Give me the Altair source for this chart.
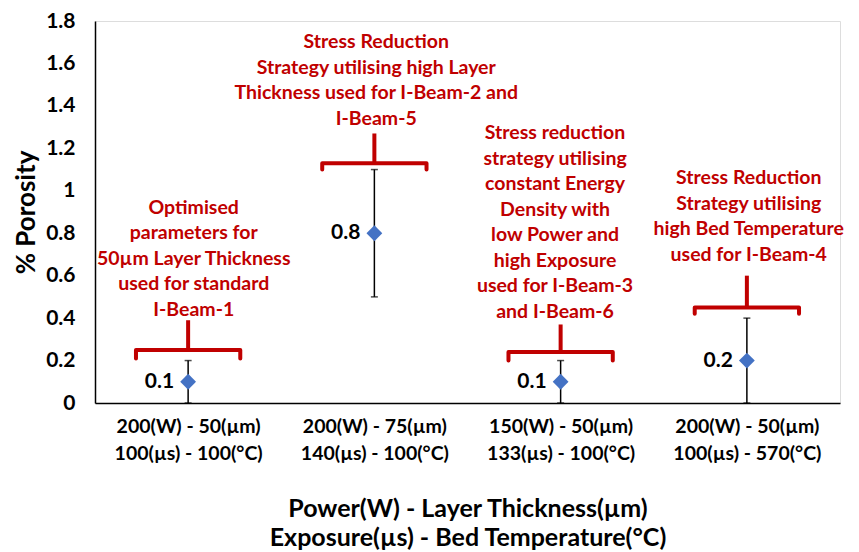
import json
import altair as alt
import pandas as pd

# ---- data ----
categories = [1, 2, 3, 4]
x_line1 = ["200(W) - 50(µm)", "200(W) - 75(µm)", "150(W) - 50(µm)", "200(W) - 50(µm)"]
x_line2 = ["100(µs) - 100(°C)", "140(µs) - 100(°C)", "133(µs) - 100(°C)", "100(µs) - 570(°C)"]
porosity = [0.1, 0.8, 0.1, 0.2]
err_low = [0.0, 0.5, 0.0, 0.0]
err_high = [0.2, 1.1, 0.2, 0.4]
value_labels = ["0.1", "0.8", "0.1", "0.2"]

annotations = [
    "Optimised\nparameters for\n50µm Layer Thickness\nused for standard\nI-Beam-1",
    "Stress Reduction\nStrategy utilising high Layer\nThickness used for I-Beam-2 and\nI-Beam-5",
    "Stress reduction\nstrategy utilising\nconstant Energy\nDensity with\nlow Power and\nhigh Exposure\nused for I-Beam-3\nand I-Beam-6",
    "Stress Reduction\nStrategy utilising\nhigh Bed Temperature\nused for I-Beam-4",
]
ann_x = [1.03, 2.01, 2.97, 4.01]
ann_y = [0.919, 1.701, 1.272, 1.060]   # centre of first line

bracket_x = [1.0, 2.0, 3.0, 4.0]
bracket_top = [0.39, 1.27, 0.37, 0.60]
bracket_bar = [0.25, 1.13, 0.24, 0.45]
bracket_end = [0.21, 1.10, 0.20, 0.42]
bracket_half = 0.28

y_ticks = [0, 0.2, 0.4, 0.6, 0.8, 1.0, 1.2, 1.4, 1.6, 1.8]

RED = "#C00000"
BLUE = "#4472C4"
FONT = "Lato"

# ---- tables ----
pts = pd.DataFrame({"x": categories, "y": porosity, "lo": err_low, "hi": err_high, "lab": value_labels})
ann = pd.DataFrame({"x": ann_x, "y": ann_y, "t": annotations})

rows = []
for i, (cx, yt, yb, ye) in enumerate(zip(bracket_x, bracket_top, bracket_bar, bracket_end)):
    for k, (px, py) in enumerate([(cx - bracket_half, ye), (cx - bracket_half, yb),
                                  (cx + bracket_half, yb), (cx + bracket_half, ye)]):
        rows.append({"b": i, "o": k, "x": px, "y": py})
br = pd.DataFrame(rows)
stems = pd.DataFrame({"x": bracket_x, "y": bracket_bar, "y2": bracket_top})

label_arr = json.dumps([[a, b] for a, b in zip(x_line1, x_line2)], ensure_ascii=False)

xscale = alt.Scale(domain=[0.5, 4.5], nice=False, zero=False)
yscale = alt.Scale(domain=[0, 1.8], nice=False)

xaxis = alt.Axis(
    values=categories, labelExpr=f"{label_arr}[datum.value - 1]", grid=False, ticks=False,
    labelFontSize=19.5, labelFontWeight="bold", labelFont=FONT, labelColor="black",
    labelLineHeight=27, labelPadding=14, domainColor="black", domainWidth=1.5,
    title=["Power(W) - Layer Thickness(µm)", "Exposure(µs) - Bed Temperature(°C)"],
    titleFontSize=25, titleFontWeight="bold", titleFont=FONT, titleColor="black",
    titleLineHeight=29, titlePadding=34,
)
yaxis = alt.Axis(
    values=y_ticks, labelExpr="format(datum.value, '.1~f')", grid=False, ticks=False,
    labelFontSize=21, labelFontWeight="bold", labelFont=FONT, labelColor="black",
    labelPadding=20, domainColor="black", domainWidth=1.5,
    title="% Porosity", titleFontSize=26, titleFontWeight="bold", titleFont=FONT,
    titleColor="black", titlePadding=6,
)

base = alt.Chart(pts)

rules = base.mark_rule(color="black", strokeWidth=1.5).encode(
    x=alt.X("x:Q", scale=xscale, axis=xaxis),
    y=alt.Y("lo:Q", scale=yscale, axis=yaxis),
    y2="hi:Q",
)
caps_hi = base.mark_tick(color="black", orient="horizontal", size=7, thickness=1.5).encode(
    x=alt.X("x:Q", scale=xscale), y=alt.Y("hi:Q", scale=yscale))
caps_lo = base.mark_tick(color="black", orient="horizontal", size=7, thickness=1.5).encode(
    x=alt.X("x:Q", scale=xscale), y=alt.Y("lo:Q", scale=yscale))
points = base.mark_point(shape="diamond", filled=True, color=BLUE, size=250, opacity=1).encode(
    x=alt.X("x:Q", scale=xscale), y=alt.Y("y:Q", scale=yscale))
vlabels = base.mark_text(align="right", baseline="middle", dx=-14, fontSize=21,
                         fontWeight="bold", font=FONT, color="black").encode(
    x=alt.X("x:Q", scale=xscale), y=alt.Y("y:Q", scale=yscale), text="lab:N")

brackets = alt.Chart(br).mark_line(color=RED, strokeWidth=4, strokeJoin="round", strokeCap="round").encode(
    x=alt.X("x:Q", scale=xscale), y=alt.Y("y:Q", scale=yscale), detail="b:N", order="o:Q")
stem = alt.Chart(stems).mark_rule(color=RED, strokeWidth=4).encode(
    x=alt.X("x:Q", scale=xscale), y=alt.Y("y:Q", scale=yscale), y2="y2:Q")

ann_text = alt.Chart(ann).mark_text(
    lineBreak="\n", baseline="middle", fontSize=19.5, fontWeight="bold",
    font=FONT, color=RED, lineHeight=25.5, align="center",
).encode(x=alt.X("x:Q", scale=xscale), y=alt.Y("y:Q", scale=yscale), text="t:N")

chart = alt.layer(rules, caps_hi, caps_lo, points, vlabels, brackets, stem, ann_text).properties(
    width=745, height=382,
    autosize=alt.AutoSizeParams(type="none"),
    padding={"left": 87, "top": 13, "right": 11, "bottom": 152},
).configure_view(stroke=None).configure(background="white")

chart.save("out.html", embed_options={"renderer": "svg", "actions": False})
